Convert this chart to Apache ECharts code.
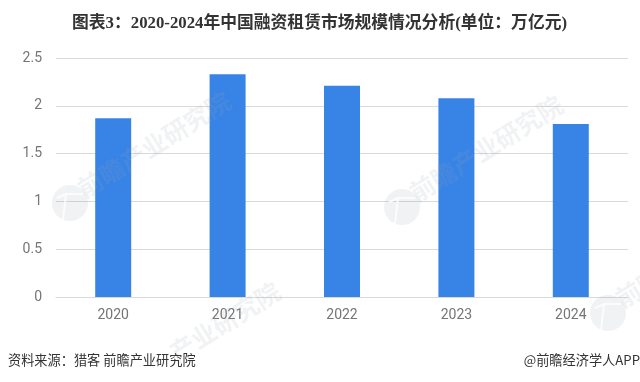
<!DOCTYPE html>
<html>
<head>
<meta charset="utf-8">
<style>
html, body { margin: 0; padding: 0; background: #fff; }
#chart { width: 640px; height: 382px; }
</style>
<script src="https://cdn.jsdelivr.net/npm/echarts@6/dist/echarts.min.js"></script>
</head>
<body>
<div id="chart"></div>
<script>
var years = ['2020', '2021', '2022', '2023', '2024'];
var scale = [1.87, 2.33, 2.21, 2.08, 1.81];

var cjk = '"Noto Sans CJK SC", sans-serif';
var markColor = 'rgba(150,160,175,0.14)';

// 水印：logo + 斜字
function mark(x, y) {
	return [{
		type: 'circle',
		silent: true,
		z: 10,
		shape: { cx: x, cy: y, r: 18 },
		style: { fill: markColor }
	}, {
		type: 'polyline',
		silent: true,
		z: 11,
		shape: { points: [[x - 13, y - 5], [x - 4, y - 9], [x + 13, y - 9]] },
		style: { stroke: '#fff', lineWidth: 2, fill: 'none', opacity: 0.8 }
	}, {
		type: 'line',
		silent: true,
		z: 11,
		shape: { x1: x - 4, y1: y - 9, x2: x - 7, y2: y + 17 },
		style: { stroke: '#fff', lineWidth: 2, opacity: 0.8 }
	}, {
		type: 'text',
		silent: true,
		z: 10,
		x: x + 10,
		y: y - 12,
		rotation: Math.PI * 32 / 180,
		style: { text: '前瞻产业研究院', fill: markColor, font: 'bold 25px ' + cjk, textVerticalAlign: 'middle' }
	}];
}

var chart = echarts.init(document.getElementById('chart'));
chart.setOption({
	animation: false,
	title: {
		text: '图表3：2020-2024年中国融资租赁市场规模情况分析(单位：万亿元)',
		left: 67,
		top: 10,
		textStyle: { fontFamily: '"Liberation Serif", "Noto Sans CJK SC", serif', fontSize: 16.8, fontWeight: 'bold', color: '#333333' }
	},
	grid: { left: 56, right: 12, top: 58, bottom: 85 },
	xAxis: {
		type: 'category',
		data: years,
		axisLine: { lineStyle: { color: '#d9d9d9' } },
		axisTick: { show: false },
		axisLabel: { color: '#757575', fontSize: 14, margin: 11, fontFamily: 'Roboto, sans-serif' }
	},
	yAxis: {
		type: 'value',
		min: 0,
		max: 2.5,
		interval: 0.5,
		axisLine: { show: false },
		axisTick: { show: false },
		splitLine: { lineStyle: { color: '#d9d9d9' } },
		axisLabel: { color: '#757575', fontSize: 14, margin: 14, fontFamily: 'Roboto, sans-serif' }
	},
	series: [{
		type: 'bar',
		data: scale,
		barWidth: 36,
		z: 2,
		itemStyle: { color: '#3884e6' }
	}],
	graphic: [].concat(mark(70, 203), mark(402, 207), mark(608, 313), [{
		type: 'text',
		silent: true,
		z: 10,
		x: 172,
		y: 355,
		rotation: Math.PI * 32 / 180,
		style: { text: '产业研究院', fill: markColor, font: 'bold 25px ' + cjk, textVerticalAlign: 'middle' }
	}, {
		type: 'text',
		left: 8,
		top: 353,
		z: 12,
		style: { text: '资料来源：猎客 前瞻产业研究院', fill: '#333333', font: '13.2px ' + cjk }
	}, {
		type: 'text',
		right: 0,
		top: 353,
		z: 12,
		style: { text: '@前瞻经济学人APP', fill: '#333333', font: '13.2px ' + cjk }
	}])
});
</script>
</body>
</html>
